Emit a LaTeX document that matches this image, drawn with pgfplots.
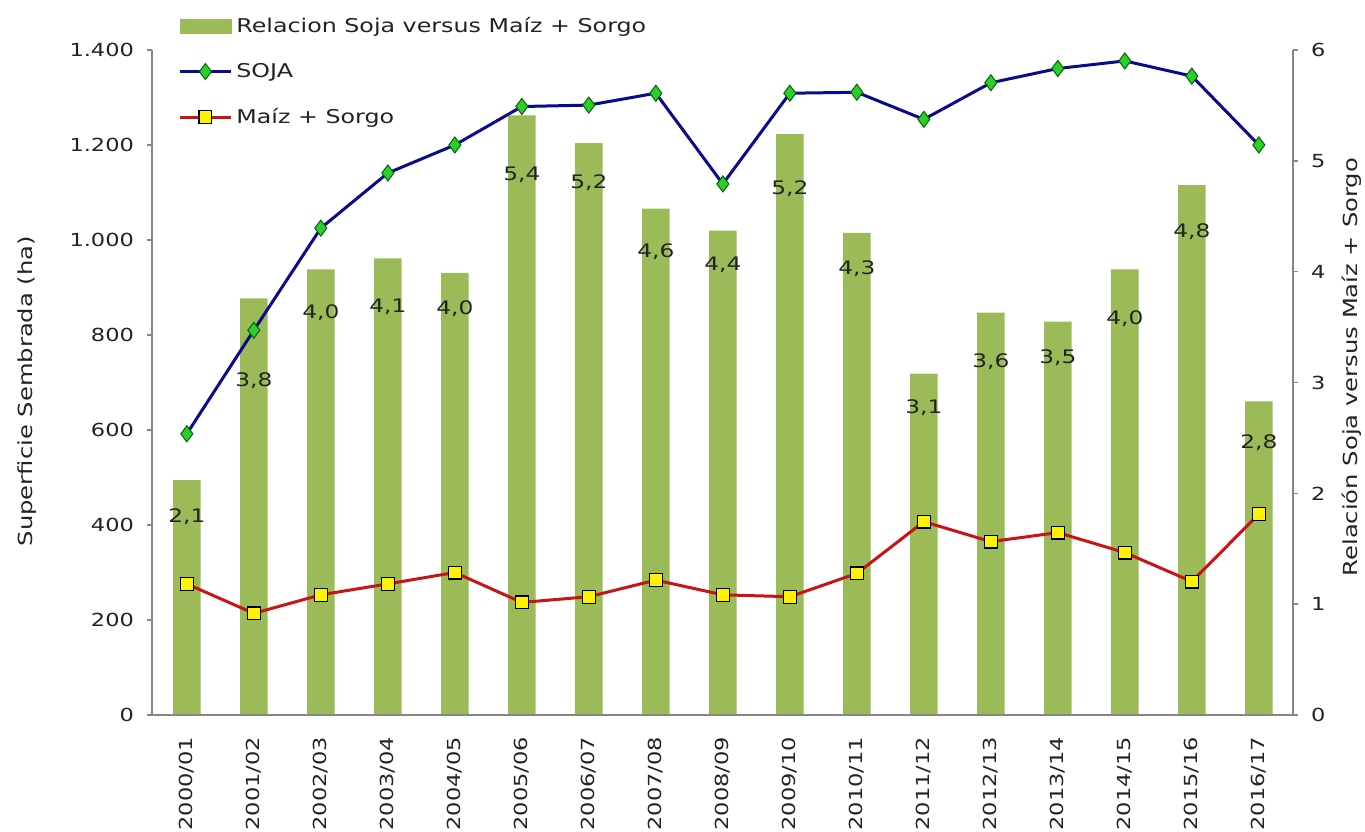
\documentclass[border=0pt]{standalone}
\usepackage{fontspec}
\setmainfont{DejaVu Sans}[FakeStretch=1.25]
\usepackage{pgfplots}
\pgfplotsset{compat=1.18}
\definecolor{barcol}{RGB}{155,187,89}
\definecolor{sojaline}{RGB}{10,10,140}
\definecolor{sojamark}{RGB}{45,205,45}
\definecolor{maizline}{RGB}{200,20,20}
\definecolor{axgray}{RGB}{134,134,134}
\definecolor{txt}{RGB}{35,35,35}
\begin{document}
\begin{tikzpicture}
\pgfplotsset{
 common/.style={
  scale only axis, width=570.5pt, height=332.5pt,
  xmin=-0.52, xmax=16.51,
  font=\fontsize{9}{11}\selectfont,
  /pgf/number format/assume math mode=true,
  axis line style={draw=axgray, line width=0.8pt},
  tick style={draw=axgray, line width=0.8pt},
  major tick length=2.5pt,
  tick align=outside,
  every tick label/.append style={text=txt},
  label style={text=txt, font=\fontsize{9.7}{11}\selectfont},
 }
}
\begin{axis}[common,
  axis y line*=right, axis x line=none,
  ymin=0, ymax=6, ytick={0,...,6},
  ylabel={Relación Soja versus Maíz + Sorgo},
  ylabel style={at={(axis description cs:1.0517,0.523)}, anchor=center},
  yticklabel style={xshift=3pt},
]
\addplot[ybar, bar width=0.41, bar shift=0pt, fill=barcol, draw=none] coordinates {
(0,2.12) (1,3.76) (2,4.02) (3,4.12) (4,3.99) (5,5.41) (6,5.16) (7,4.57) (8,4.37)
(9,5.24) (10,4.35) (11,3.08) (12,3.63) (13,3.55) (14,4.02) (15,4.78) (16,2.83)};
\addplot[draw=none, mark=none, nodes near coords, point meta=explicit symbolic,
  nodes near coords style={anchor=center, text=txt, font=\fontsize{9.3}{11}\selectfont}] coordinates {
(0,1.79) [{2,1}] (1,3.02) [{3,8}] (2,3.63) [{4,0}] (3,3.68) [{4,1}] (4,3.67) [{4,0}]
(5,4.87) [{5,4}] (6,4.80) [{5,2}] (7,4.18) [{4,6}] (8,4.06) [{4,4}] (9,4.75) [{5,2}]
(10,4.03) [{4,3}] (11,2.77) [{3,1}] (12,3.19) [{3,6}] (13,3.22) [{3,5}] (14,3.58) [{4,0}]
(15,4.36) [{4,8}] (16,2.46) [{2,8}]};
\end{axis}
\begin{axis}[common,
  axis y line*=left, axis x line*=bottom,
  ymin=0, ymax=1400, ytick={0,200,...,1400}, scaled y ticks=false,
  yticklabel style={/pgf/number format/1000 sep={.}, xshift=-3pt},
  xtick={0,...,16},
  xticklabels={2000/01,2001/02,2002/03,2003/04,2004/05,2005/06,2006/07,2007/08,2008/09,2009/10,2010/11,2011/12,2012/13,2013/14,2014/15,2015/16,2016/17},
  xtick style={draw=none},
  xticklabel style={rotate=90, anchor=east, xshift=-5pt},
  ylabel={Superficie Sembrada (ha)},
  ylabel style={at={(axis description cs:-0.1096,0.487)}, anchor=center},
  legend cell align=left,
  legend style={at={(axis description cs:0.0228,1.0505)}, anchor=north west,
    draw=none, fill=none, inner sep=0pt, row sep=14pt,
    font=\fontsize{9.5}{11}\selectfont, text=txt,
    nodes={inner ysep=0pt, inner xsep=2pt}},
]
\addlegendimage{legend image code/.code={\fill[barcol] (0pt,-3.5pt) rectangle (25.5pt,3.5pt);}}
\addlegendentry{Relacion Soja versus Maíz + Sorgo}
\addplot[color=sojaline, line width=1.5pt, mark=diamond*, mark size=4pt,
  mark options={fill=sojamark, draw=black!60!green, line width=0.5pt},
  legend image code/.code={\draw[mark repeat=2,mark phase=2] plot coordinates {(0pt,0pt) (12.75pt,0pt) (25.5pt,0pt)};}]
coordinates {
(0,592) (1,810) (2,1025) (3,1141) (4,1200) (5,1281) (6,1284) (7,1309) (8,1118)
(9,1309) (10,1311) (11,1254) (12,1331) (13,1361) (14,1377) (15,1345) (16,1200)};
\addlegendentry{SOJA}
\addplot[color=maizline, line width=1.5pt, mark=square*, mark size=3.2pt,
  mark options={fill=yellow, draw=black, line width=0.6pt},
  legend image code/.code={\draw[mark repeat=2,mark phase=2] plot coordinates {(0pt,0pt) (12.75pt,0pt) (25.5pt,0pt)};}]
coordinates {
(0,276) (1,214) (2,253) (3,276) (4,300) (5,237) (6,249) (7,284) (8,253)
(9,249) (10,298) (11,407) (12,365) (13,384) (14,342) (15,281) (16,423)};
\addlegendentry{Maíz + Sorgo}
\node[rotate=90, anchor=center, text=txt, font=\fontsize{9.7}{11}\selectfont] at (axis description cs:-0.0947,0.953) {Miles};
\end{axis}
\pgfresetboundingbox
\path (-76pt,-58pt) rectangle (606.5pt,357.5pt);
\end{tikzpicture}
\end{document}
